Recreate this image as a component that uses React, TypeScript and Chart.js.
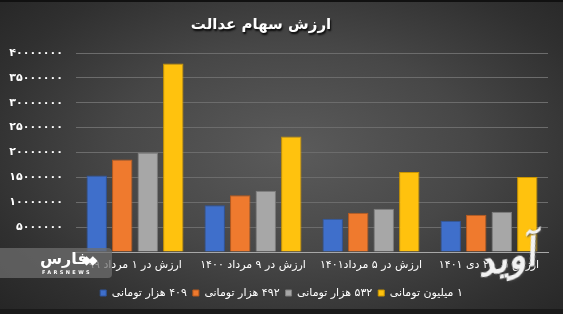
import React, { useEffect, useRef } from 'react';
import { Chart, registerables } from 'chart.js';

Chart.register(...registerables);

const chartTitle = 'ارزش سهام عدالت';
const categories = [
  'ارزش در ۱ مرداد ۹۹',
  'ارزش در ۹ مرداد ۱۴۰۰',
  'ارزش در ۵ مرداد۱۴۰۱',
  'ارزش در ۲۵ دی ۱۴۰۱',
];
const seriesNames = ['۴۰۹ هزار تومانی', '۴۹۲ هزار تومانی', '۵۳۲ هزار تومانی', '۱ میلیون تومانی'];
const values409 = [15400000, 9400000, 6700000, 6300000];
const values492 = [18600000, 11400000, 7900000, 7500000];
const values532 = [20000000, 12300000, 8700000, 8100000];
const values1m = [37900000, 23200000, 16100000, 15100000];
const seriesColors = ['#3F6FCB', '#EF7A2E', '#A7A7A7', '#FFC20E'];
const seriesBorders = ['#2F559E', '#B85A1E', '#7E7E7E', '#C99500'];
const yMax = 40000000;
const yStep = 5000000;

const persianDigits = '۰۱۲۳۴۵۶۷۸۹';
const toPersian = (v: number) => String(v).replace(/\d/g, (d) => persianDigits[Number(d)]);

const FONT = '"DejaVu Sans", sans-serif';

const titlePlugin = {
  id: 'offsetTitle',
  afterDraw(chart: any) {
    const ctx = chart.ctx;
    ctx.save();
    ctx.direction = 'rtl';
    ctx.font = `bold 15px ${FONT}`;
    ctx.textAlign = 'center';
    ctx.textBaseline = 'middle';
    ctx.shadowColor = 'rgba(0,0,0,0.9)';
    ctx.shadowOffsetX = 1;
    ctx.shadowOffsetY = 2;
    ctx.shadowBlur = 2;
    ctx.fillStyle = '#ffffff';
    ctx.fillText(chartTitle, 261, 25);
    ctx.restore();
  },
};

export default function App() {
  const canvasRef = useRef<HTMLCanvasElement>(null);

  useEffect(() => {
    if (!canvasRef.current) return;
    const seriesValues = [values409, values492, values532, values1m];
    const chart = new Chart(canvasRef.current, {
      type: 'bar',
      data: {
        labels: categories,
        datasets: seriesNames.map((name, i) => ({
          label: name,
          data: seriesValues[i],
          backgroundColor: seriesColors[i],
          borderColor: seriesBorders[i],
          borderWidth: 1,
          categoryPercentage: 0.865,
          barPercentage: 0.8,
          yAxisID: 'y',
        })),
      },
      options: {
        responsive: false,
        animation: false,
        layout: { padding: { top: 53, right: 0, left: 0, bottom: 5.5 } },
        scales: {
          x: {
            grid: { display: false, drawTicks: false },
            border: { display: true, color: '#a8a8a8', width: 1 },
            ticks: { color: '#ffffff', font: { family: FONT, size: 11 }, padding: 7, maxRotation: 0, autoSkip: false },
            afterFit: (s: any) => { s.height = 29.5; },
          },
          y: {
            min: 0,
            max: yMax,
            grid: { color: '#6c6c6c', lineWidth: 1, drawTicks: false },
            border: { display: false },
            ticks: {
              stepSize: yStep,
              color: '#ffffff',
              padding: 13,
              font: { family: FONT, size: 11, weight: 'bold' },
              callback: (v: any) => (Number(v) === 0 ? '' : toPersian(Number(v))),
            },
            afterFit: (s: any) => { s.width = 76; },
          },
          yRight: {
            position: 'right',
            display: true,
            min: 0,
            max: yMax,
            grid: { display: false, drawTicks: false },
            border: { display: false },
            ticks: { display: false },
            afterFit: (s: any) => { s.width = 15; },
          },
        },
        plugins: {
          title: { display: false },
          tooltip: { enabled: false },
          legend: {
            position: 'bottom',
            textDirection: 'rtl',
            labels: {
              color: '#ffffff',
              boxWidth: 6,
              boxHeight: 6,
              padding: 6,
              font: { family: FONT, size: 11 },
            },
          },
        },
      },
      plugins: [titlePlugin],
    } as any);
    return () => chart.destroy();
  }, []);

  return (
    <div
      style={{
        position: 'absolute',
        left: 0,
        top: 0,
        width: 563,
        height: 314,
        overflow: 'hidden',
        background: 'radial-gradient(ellipse 70% 75% at 52% 48%, #5b5b5b 0%, #474747 45%, #303030 80%, #262626 100%)',
      }}
    >
      <canvas ref={canvasRef} width={563} height={314} style={{ direction: 'rtl', display: 'block' }} />
      <div style={{ position: 'absolute', left: 0, top: 0, width: 563, height: 2, background: '#111' }} />
      <div style={{ position: 'absolute', left: 0, top: 309, width: 563, height: 5, background: '#1a1a1a' }} />
      <div
        style={{
          position: 'absolute',
          left: 0,
          top: 248,
          width: 112,
          height: 30,
          background: 'rgba(110,110,110,0.75)',
          borderRadius: '0 4px 4px 0',
          fontFamily: FONT,
          color: '#fff',
        }}
      >
        <div style={{ position: 'absolute', left: 40, top: 1, fontSize: 16, fontWeight: 'bold', direction: 'rtl' }}>فارس</div>
        <div style={{ position: 'absolute', left: 82, top: 5, fontSize: 12, letterSpacing: -3 }}>◆◆</div>
        <div style={{ position: 'absolute', left: 42, top: 21, fontSize: 5, letterSpacing: 2.4, fontWeight: 'bold' }}>FARSNEWS</div>
      </div>
      <div
        style={{
          position: 'absolute',
          left: 476,
          top: 236,
          fontSize: 38,
          fontStyle: 'italic',
          fontWeight: 'bold',
          color: '#f2f2f2',
          fontFamily: FONT,
          direction: 'rtl',
          textShadow: '1px 1px 2px #444',
          transform: 'rotate(-12deg)',
        }}
      >
        آوید
      </div>
    </div>
  );
}
